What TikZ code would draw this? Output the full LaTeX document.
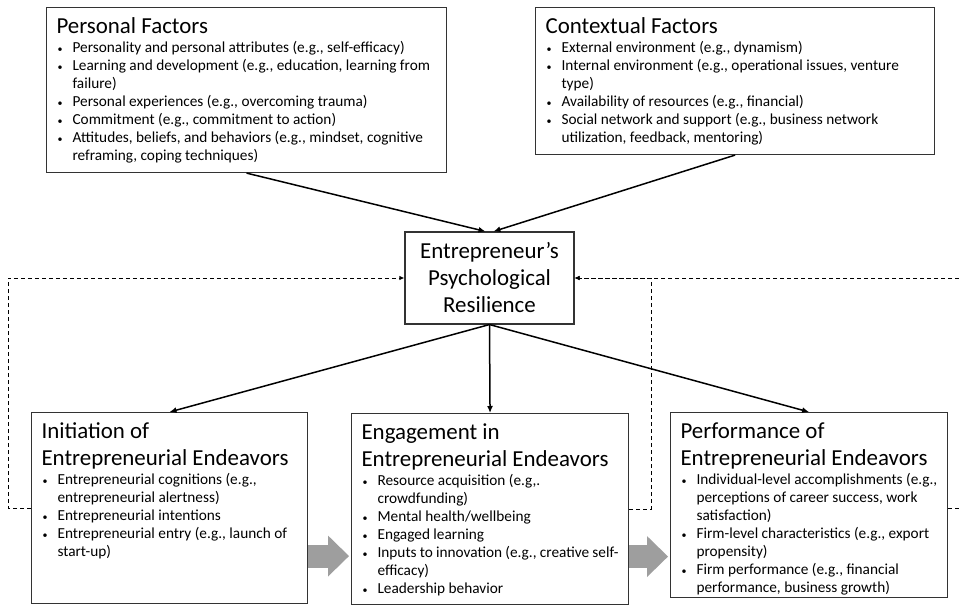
\documentclass[tikz,border=0pt]{standalone}
\usepackage{fontspec}
\setmainfont{Carlito}
\usetikzlibrary{arrows.meta,calc}

\newcommand{\titlefont}{\fontsize{22.9}{27}\selectfont}
\newcommand{\bodyfont}{\fontsize{15.3}{18}\selectfont}
\newcommand{\boxtitle}[1]{{\titlefont\rule{0pt}{26pt}#1\par}\bodyfont\vspace{1pt}}
\newcommand{\bul}[1]{\par\noindent\hangindent=16pt\hangafter=1\hbox to 16pt{\hspace{1pt}\raisebox{0.5pt}{\fontsize{10}{10}\selectfont\textbullet}\hfil}#1\par}
\newcommand{\boxtext}[3]{\begin{minipage}[t][#2][t]{#1}\raggedright #3\end{minipage}}

\begin{document}
\begin{tikzpicture}
        [x=1pt, y=-1pt,
        factor/.style={draw=black!80, line width=1.1pt, inner xsep=10pt, inner ysep=0pt, anchor=north west},
        core/.style={draw=black!80, line width=1.1pt, minimum width=169pt, minimum height=92pt, align=center, font=\titlefont},
        effect/.style={line width=1.5pt, -{Latex[length=7pt,width=6pt]}},
        feedback/.style={line width=0.9pt, dash pattern=on 4pt off 3pt, -{Latex[length=5pt,width=4.5pt]}},
        stagearrow/.style={draw=black!38, line width=23pt, shorten >=2pt, -{Triangle[length=21pt,width=41pt,line width=0pt]}}]
        \useasboundingbox (0,0) rectangle (959,607);

        \node[factor] (personal) at (46,7) {\boxtext{380pt}{165pt}{%
            \boxtitle{Personal Factors}
            \bul{Personality and personal attributes (e.g., self-efficacy)}
            \bul{Learning and development (e.g., education, learning from\newline failure)}
            \bul{Personal experiences (e.g., overcoming trauma)}
            \bul{Commitment (e.g., commitment to action)}
            \bul{Attitudes, beliefs, and behaviors (e.g., mindset, cognitive\newline reframing, coping techniques)}}};
        \node[factor] (context) at (535,7) {\boxtext{379pt}{147pt}{%
            \boxtitle{Contextual Factors}
            \bul{External environment (e.g., dynamism)}
            \bul{Internal environment (e.g., operational issues, venture\newline type)}
            \bul{Availability of resources (e.g., financial)}
            \bul{Social network and support (e.g., business network\newline utilization, feedback, mentoring)}}};

        \node[core] (res) at (489.5,278) {Entrepreneur’s\\Psychological\\Resilience};

        \node[factor] (init) at (31,412) {\boxtext{256pt}{191pt}{%
            \boxtitle{Initiation of\\Entrepreneurial Endeavors}
            \bul{Entrepreneurial cognitions (e.g.,\newline entrepreneurial alertness)}
            \bul{Entrepreneurial intentions}
            \bul{Entrepreneurial entry (e.g., launch of\newline start-up)}}};
        \node[factor] (engage) at (351,413) {\boxtext{257pt}{191pt}{%
            \boxtitle{Engagement in\\Entrepreneurial Endeavors}
            \bul{Resource acquisition (e.g,.\newline crowdfunding)}
            \bul{Mental health/wellbeing}
            \bul{Engaged learning}
            \bul{Inputs to innovation (e.g., creative self-\newline efficacy)}
            \bul{Leadership behavior}}};
        \node[factor] (perf) at (670,412) {\boxtext{257pt}{185pt}{%
            \boxtitle{Performance of\\Entrepreneurial Endeavors}
            \bul{Individual-level accomplishments (e.g.,\newline perceptions of career success, work\newline satisfaction)}
            \bul{Firm-level characteristics (e.g., export\newline propensity)}
            \bul{Firm performance (e.g., financial\newline performance, business growth)}}};

        \draw[effect] (personal.south) -- ([xshift=-4pt]res.north);
        \draw[effect] (context.south) -- ([xshift=4pt]res.north);
        \draw[effect] (res.south) -- (init.north);
        \draw[effect] (res.south) -- (engage.north);
        \draw[effect] (res.south) -- (perf.north);

        % feedback loops back to resilience
        \draw[feedback] (init.west) -- ++(-23,0) |- (res.west);
        \draw[feedback] (engage.east) -- ++(22,0) |- (res.east);
        \draw[feedback] ([yshift=-3pt]perf.east) -- ++(20,0) |- (res.east);

        \draw[stagearrow] ($(init.east)+(0,48)$) -- ($(init.east -| engage.west)+(0,48)$);
        \draw[stagearrow] ($(engage.east)+(0,47.5)$) -- ($(engage.east -| perf.west)+(0,47.5)$);

    \end{tikzpicture}
\end{document}
